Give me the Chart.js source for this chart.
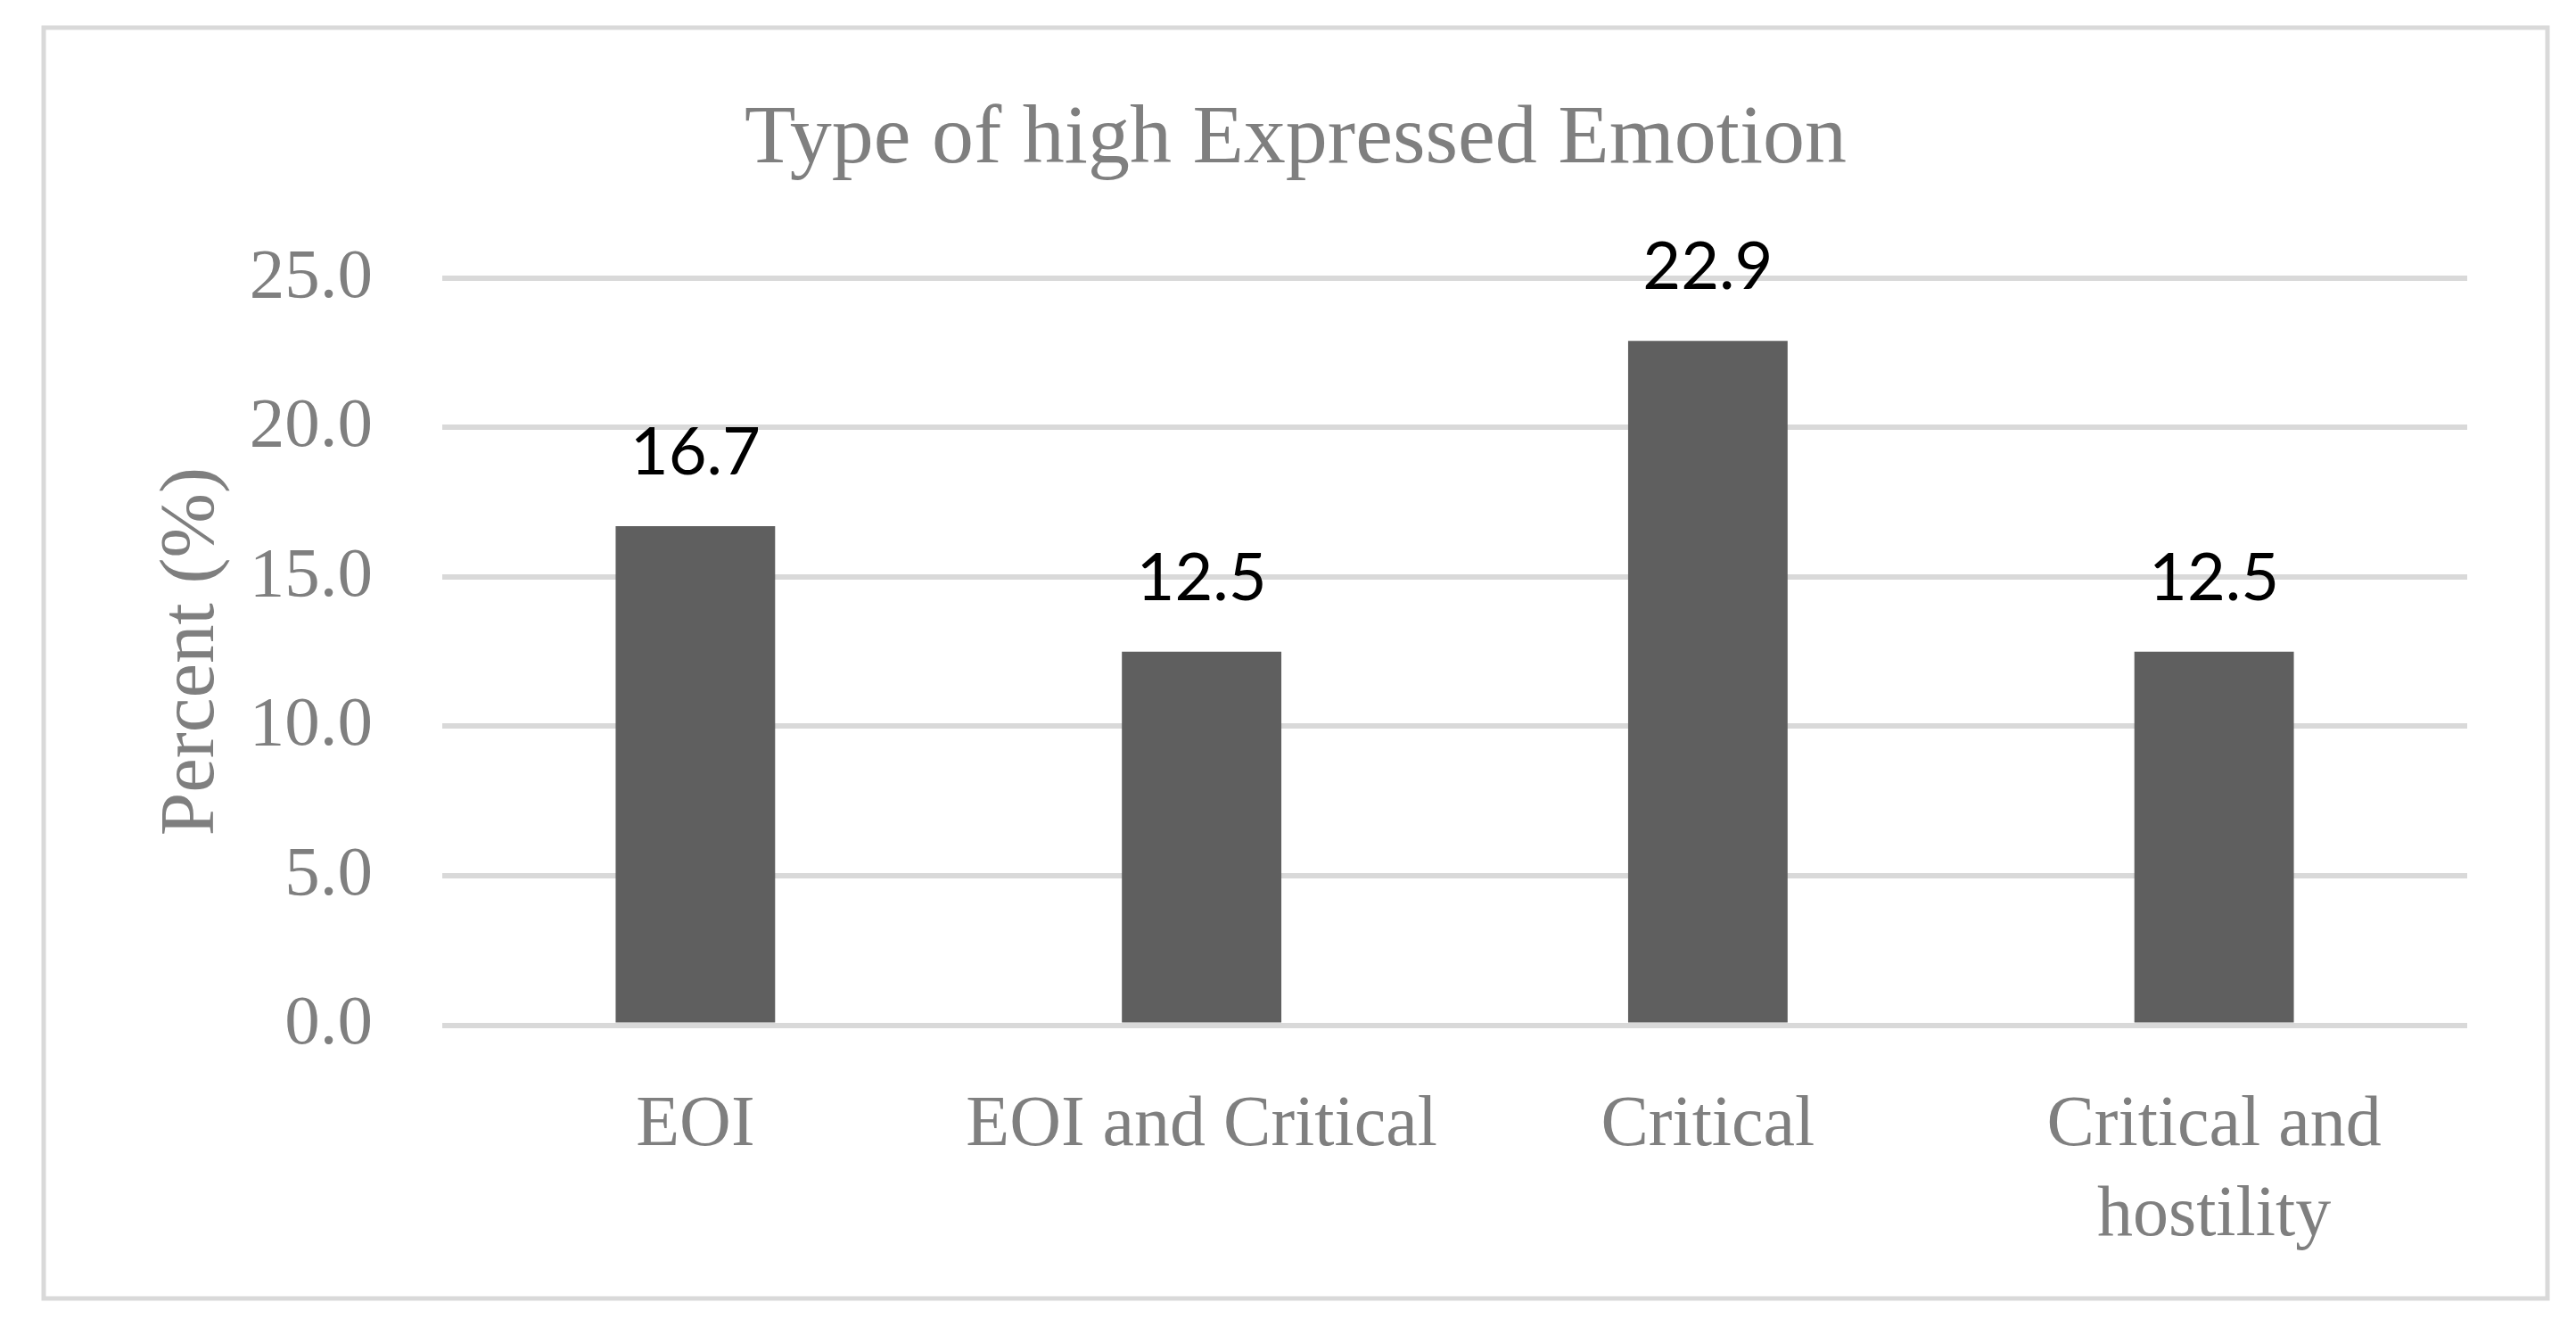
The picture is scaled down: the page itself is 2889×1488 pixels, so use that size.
<!DOCTYPE html>
<html lang="en">
<head>
    <meta charset="UTF-8">
    <title>Type of high Expressed Emotion</title>
    <script src="https://cdn.jsdelivr.net/npm/chart.js@4"></script>
    <style>
        html, body { margin: 0; padding: 0; background: #fff; overflow: hidden; }
        #chartBox { width: 2889px; height: 1488px; position: relative; }
    </style>
</head>
<body>
    <div id="chartBox">
        <canvas id="emotionChart"></canvas>
    </div>
    <script>
        // values
        const categories = ['EOI', 'EOI and Critical', 'Critical', ['Critical and', 'hostility']];
        const percents = [16.7, 12.5, 22.9, 12.5];
        const yMin = 0, yMax = 25, yStep = 5;

        const grey = '#7f7f7f';
        const serif = '"Liberation Serif", "DejaVu Serif", serif';

        // light grey frame round the whole chart
        const framePlugin = {
            id: 'frame',
            beforeDraw(chart) {
                const ctx = chart.ctx;
                ctx.save();
                ctx.strokeStyle = '#d9d9d9';
                ctx.lineWidth = 5;
                ctx.strokeRect(49, 31, 2808, 1425);
                ctx.restore();
            }
        };

        // value labels above the bars
        const valueLabels = {
            id: 'valueLabels',
            afterDatasetsDraw(chart) {
                const ctx = chart.ctx;
                const meta = chart.getDatasetMeta(0);
                ctx.save();
                ctx.font = '74px Lato, "Open Sans", sans-serif';
                ctx.fillStyle = '#000';
                ctx.textAlign = 'center';
                ctx.textBaseline = 'alphabetic';
                meta.data.forEach((bar, i) => {
                    ctx.fillText(percents[i].toFixed(1), bar.x, bar.y - 58);
                });
                ctx.restore();
            }
        };

        const el = document.getElementById('emotionChart');
        new Chart(el, {
            type: 'bar',
            data: {
                labels: categories,
                datasets: [{
                    label: 'Percent',
                    data: percents,
                    backgroundColor: '#5f5f5f',
                    borderWidth: 0,
                    categoryPercentage: 1,
                    barPercentage: 0.315
                }]
            },
            options: {
                responsive: true,
                maintainAspectRatio: false,
                devicePixelRatio: 1,
                animation: false,
                layout: { padding: { left: 17, right: 0, top: 0, bottom: 0 } },
                plugins: {
                    legend: { display: false },
                    tooltip: { enabled: false },
                    title: {
                        display: true,
                        text: 'Type of high Expressed Emotion',
                        color: grey,
                        font: { family: serif, size: 94, weight: 'normal', lineHeight: 1.2 },
                        padding: { top: 101, bottom: 98 }
                    }
                },
                scales: {
                    x: {
                        grid: { display: false },
                        border: { display: false },
                        ticks: {
                            color: grey,
                            font: { family: serif, size: 80, lineHeight: 1.26 },
                            padding: 55,
                            autoSkip: false,
                            maxRotation: 0
                        },
                        afterFit(scale) { scale.height = 338.5; }
                    },
                    y: {
                        min: yMin,
                        max: yMax,
                        grid: { color: '#d9d9d9', lineWidth: 6, drawTicks: false },
                        border: { display: false },
                        ticks: {
                            stepSize: yStep,
                            color: grey,
                            font: { family: serif, size: 79 },
                            padding: 78,
                            callback: v => v.toFixed(1)
                        },
                        title: {
                            display: true,
                            text: 'Percent (%)',
                            color: grey,
                            font: { family: serif, size: 87, lineHeight: 1.2 },
                            padding: { top: 147, bottom: 0 }
                        },
                        afterFit(scale) { scale.width = 479; }
                    },
                    yRight: {
                        position: 'right',
                        display: true,
                        grid: { display: false },
                        border: { display: false },
                        ticks: { display: false },
                        afterFit(scale) { scale.width = 122; }
                    }
                }
            },
            plugins: [framePlugin, valueLabels]
        });
    </script>
</body>
</html>
